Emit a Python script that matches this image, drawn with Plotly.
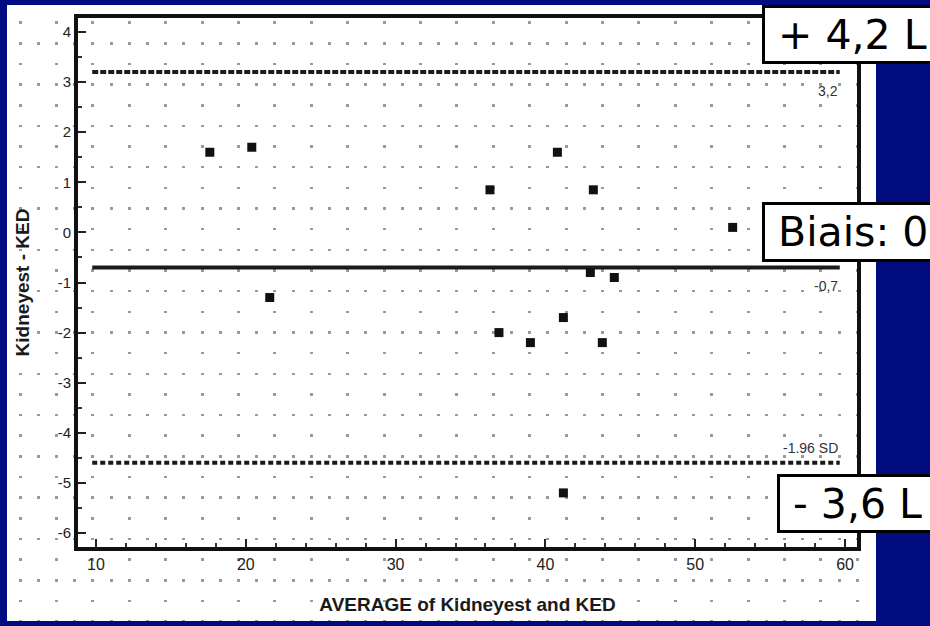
import plotly.graph_objects as go

# ---------------- data ----------------
avg_values = [17.6, 20.4, 21.6, 36.3, 40.8, 43.2, 52.5, 43.0, 44.6, 36.9, 39.0, 41.2, 43.8, 41.2]
diff_values = [1.6, 1.7, -1.3, 0.85, 1.6, 0.85, 0.1, -0.8, -0.9, -2.0, -2.2, -1.7, -2.2, -5.2]
upper_loa = 3.2
mean_diff = -0.7
lower_loa = -4.6
line_span = [9.75, 59.65]
x_ticks = [10, 20, 30, 40, 50, 60]
y_ticks = [4, 3, 2, 1, 0, -1, -2, -3, -4, -5, -6]
line_labels = ["3,2", "-0,7"]
sd_label = "-1.96 SD"
box_texts = ["+ 4,2 L", "Biais: 0,3 L", "- 3,6 L"]
x_title = "AVERAGE of Kidneyest and KED"
y_title = "Kidneyest - KED"

# ---------------- helpers (pixel -> paper) ----------------
W, H = 930, 626
def px(v):
    return v / W
def py(v):
    return 1 - v / H

NAVY = "#000C80"
INK = "#1a1a1a"
DOT = "#9a9a9a"

fig = go.Figure()

# empty traces so that the dotted-background subplots exist
fig.add_trace(go.Scatter(x=[], y=[], xaxis="x", yaxis="y", showlegend=False, hoverinfo="skip"))
fig.add_trace(go.Scatter(x=[], y=[], xaxis="x2", yaxis="y2", showlegend=False, hoverinfo="skip"))

# reference lines
for val, dash in [(upper_loa, "6px,2px"), (mean_diff, "solid"), (lower_loa, "5px,3px")]:
    fig.add_trace(go.Scatter(
        x=line_span, y=[val, val], mode="lines",
        line=dict(color=INK, width=4, dash=dash),
        xaxis="x3", yaxis="y3", showlegend=False, hoverinfo="skip"))

# points
fig.add_trace(go.Scatter(
    x=avg_values, y=diff_values, mode="markers",
    marker=dict(symbol="square", size=9, color="#111111"),
    xaxis="x3", yaxis="y3", showlegend=False))

grid_common = dict(showticklabels=False, ticks="", zeroline=False, showline=False,
                   fixedrange=True)

layout = dict(
    width=W, height=H,
    margin=dict(l=0, r=0, t=0, b=0),
    paper_bgcolor=NAVY,
    plot_bgcolor="rgba(0,0,0,0)",
    showlegend=False,
    # dense dotted rows
    xaxis=dict(domain=[px(7), px(876)], range=[7, 876], tick0=20, dtick=18.2,
               showgrid=True, gridcolor=DOT, gridwidth=2.5, griddash="2.5px,38.8px",
               anchor="y", **grid_common),
    yaxis=dict(domain=[py(621), py(42.1)], range=[0, 1], showgrid=False,
               anchor="x", **grid_common),
    # sparse dotted rows
    xaxis2=dict(domain=[px(7), px(876)], range=[7, 876], tick0=20, dtick=36.4,
                showgrid=True, gridcolor=DOT, gridwidth=2.5, griddash="2.5px,38.8px",
                anchor="y2", **grid_common),
    yaxis2=dict(domain=[py(621), py(21.4)], range=[0, 1], showgrid=False,
                anchor="x2", **grid_common),
    # main plot
    xaxis3=dict(domain=[px(78), px(857)], range=[8.8, 60.8], anchor="y3",
                tickvals=x_ticks, ticktext=[str(v) for v in x_ticks],
                showgrid=False, zeroline=False,
                showline=True, mirror=True, linewidth=4, linecolor="#111111",
                ticks="inside", ticklen=8, tickwidth=2, tickcolor="#222222",
                minor=dict(ticks="inside", ticklen=4, tickwidth=1.5, dtick=2, tickcolor="#333333"),
                tickfont=dict(family="Liberation Sans", size=16, color="#222222"),
                title=dict(text="<b>" + x_title + "</b>", standoff=26,
                           font=dict(family="Liberation Sans", size=19, color=INK)),
                fixedrange=True),
    yaxis3=dict(domain=[py(547), py(18)], range=[-6.28, 4.28], anchor="x3",
                tickvals=y_ticks, ticktext=[str(v) for v in y_ticks],
                showgrid=False, zeroline=False,
                showline=True, mirror=True, linewidth=4, linecolor="#111111",
                ticks="inside", ticklen=8, tickwidth=2, tickcolor="#222222",
                minor=dict(ticks="inside", ticklen=4, tickwidth=1.5, dtick=0.5, tickcolor="#333333"),
                tickfont=dict(family="Liberation Sans", size=15, color="#222222"),
                title=dict(text="<b>" + y_title + "</b>", standoff=24,
                           font=dict(family="Liberation Sans", size=19, color=INK)),
                fixedrange=True),
    shapes=[dict(type="rect", xref="paper", yref="paper",
                 x0=px(7), x1=px(876), y0=py(621), y1=py(5),
                 fillcolor="white", line=dict(width=0), layer="below")],
)
fig.update_layout(**layout)

# labels of the reference lines
lbl_font = dict(family="Liberation Sans", size=14, color="#333333")
for val, txt in zip([upper_loa, mean_diff], line_labels):
    fig.add_annotation(xref="x3", yref="y3", x=line_span[1], y=val, text=txt,
                       showarrow=False, xanchor="right", yanchor="top", yshift=-9,
                       font=lbl_font)
fig.add_annotation(xref="x3", yref="y3", x=line_span[1], y=lower_loa, text=sd_label,
                   showarrow=False, xanchor="right", yanchor="bottom", yshift=5,
                   font=lbl_font)

# overlay boxes (running off the right edge, as in the slide)
box_font = dict(family="DejaVu Sans", size=41, color="black")
for txt, (left, top, h) in zip(box_texts, [(762, 5, 53), (762, 202, 54), (777, 474, 53)]):
    fig.add_annotation(xref="paper", yref="paper", x=px(left), y=py(top),
                       xanchor="left", yanchor="top", text="\u00a0" + txt,
                       showarrow=False, font=box_font, align="left", valign="middle",
                       bgcolor="white", bordercolor="black", borderwidth=3, borderpad=0,
                       width=330, height=h)

fig.write_html("out.html")
